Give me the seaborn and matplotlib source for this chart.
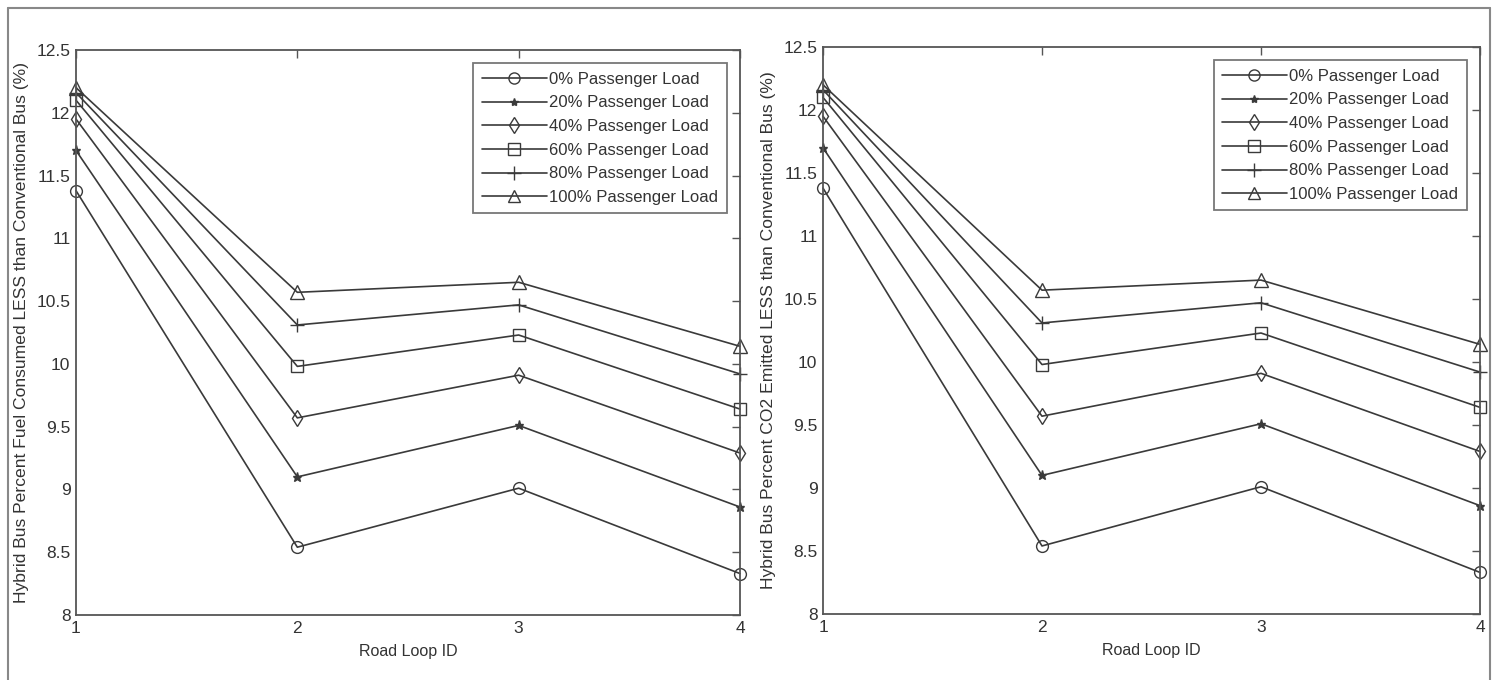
import matplotlib
matplotlib.use("Agg")
import matplotlib.pyplot as plt
import seaborn as sns
import pandas as pd
from matplotlib.lines import Line2D

road_loops = [1, 2, 3, 4]
load_labels = ["0% Passenger Load", "20% Passenger Load", "40% Passenger Load",
               "60% Passenger Load", "80% Passenger Load", "100% Passenger Load"]

fuel_0 = [11.38, 8.54, 9.01, 8.33]
fuel_20 = [11.70, 9.10, 9.51, 8.86]
fuel_40 = [11.95, 9.57, 9.91, 9.29]
fuel_60 = [12.10, 9.98, 10.23, 9.64]
fuel_80 = [12.16, 10.31, 10.47, 9.92]
fuel_100 = [12.20, 10.57, 10.65, 10.14]

co2_0 = [11.38, 8.54, 9.01, 8.33]
co2_20 = [11.70, 9.10, 9.51, 8.86]
co2_40 = [11.95, 9.57, 9.91, 9.29]
co2_60 = [12.10, 9.98, 10.23, 9.64]
co2_80 = [12.16, 10.31, 10.47, 9.92]
co2_100 = [12.20, 10.57, 10.65, 10.14]

y_ticks = [8, 8.5, 9, 9.5, 10, 10.5, 11, 11.5, 12, 12.5]
y_tick_labels = ["8", "8.5", "9", "9.5", "10", "10.5", "11", "11.5", "12", "12.5"]

ylabel_left = "Hybrid Bus Percent Fuel Consumed LESS than Conventional Bus (%)"
ylabel_right = "Hybrid Bus Percent CO2 Emitted LESS than Conventional Bus (%)"
xlabel = "Road Loop ID"


def long_frame(series):
    rows = []
    for lab, vals in zip(load_labels, series):
        for x, v in zip(road_loops, vals):
            rows.append({"Road Loop ID": x, "value": v, "load": lab})
    return pd.DataFrame(rows)


df_fuel = long_frame([fuel_0, fuel_20, fuel_40, fuel_60, fuel_80, fuel_100])
df_co2 = long_frame([co2_0, co2_20, co2_40, co2_60, co2_80, co2_100])

sns.set_style("white")
plt.rcParams['font.family'] = ['Liberation Sans', 'DejaVu Sans']

LC = "#3a3a3a"
AX = "#555555"
marker_map = dict(zip(load_labels, ["o", "*", "d", "s", "+", "^"]))
size_map = dict(zip(load_labels, [8.5, 6.5, 8.5, 8.5, 10, 9.5]))

fig = plt.figure(figsize=(14.97, 6.8), dpi=100)
ax1 = fig.add_axes([76 / 1497, 1 - 615 / 680, (740 - 76) / 1497, (615 - 50) / 680])
ax2 = fig.add_axes([823 / 1497, 1 - 614 / 680, (1480 - 823) / 1497, (614 - 47) / 680])

# figure frame
for xs, ys in [([8, 8], [680, 8]), ([8, 1490], [8, 8]), ([1490, 1490], [8, 680])]:
    fig.add_artist(Line2D([x / 1497 for x in xs], [1 - y / 680 for y in ys],
                          transform=fig.transFigure, color="#888888", lw=1.5))

for ax, df, ylab in [(ax1, df_fuel, ylabel_left), (ax2, df_co2, ylabel_right)]:
    for lab in load_labels:
        sub = df[df["load"] == lab]
        m = marker_map[lab]
        kw = dict(markerfacecolor=(LC if m == "*" else "none"), markeredgecolor=LC,
                  markeredgewidth=1.0, markersize=size_map[lab])
        sns.lineplot(data=sub, x="Road Loop ID", y="value", ax=ax, color=LC,
                     marker=m, linewidth=1.2, clip_on=False, **kw)
    ax.set_xlim(1, 4)
    ax.set_ylim(8, 12.5)
    ax.set_xticks(road_loops)
    ax.set_xticklabels([str(r) for r in road_loops])
    ax.set_yticks(y_ticks)
    ax.set_yticklabels(y_tick_labels)
    ax.tick_params(direction="in", length=6, width=1, color=AX, labelsize=12.5,
                   labelcolor="#333333", top=True, right=True, pad=4)
    for s in ax.spines.values():
        s.set_color(AX)
        s.set_linewidth(1.3)
        s.set_visible(True)
    ax.set_xlabel(xlabel, fontsize=11.5, color="#333333", labelpad=6)
    ax.set_ylabel(ylab, fontsize=12.6, color="#333333", labelpad=5)
    handles = [Line2D([0], [0], color=LC, lw=1.2, marker=marker_map[lab],
                      markersize=size_map[lab] - 0.5,
                      markerfacecolor=(LC if marker_map[lab] == "*" else "none"),
                      markeredgecolor=LC) for lab in load_labels]
    leg = ax.legend(handles, load_labels, loc="upper right", fontsize=12,
                    frameon=True, fancybox=False, handlelength=3.9,
                    handletextpad=0.15, labelspacing=0.52, borderpad=0.5,
                    borderaxespad=0.8)
    leg.get_frame().set_edgecolor(AX)
    leg.get_frame().set_linewidth(1.3)
    for t in leg.get_texts():
        t.set_color("#333333")

fig.savefig("out.png", dpi=100, facecolor="white")
